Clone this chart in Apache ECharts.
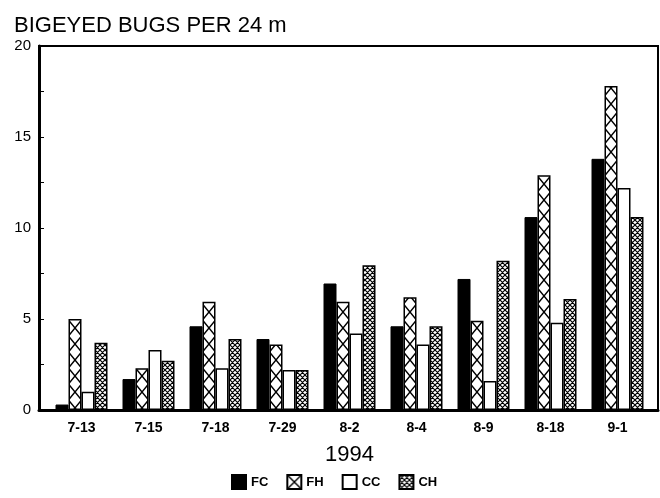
<!DOCTYPE html>
<html>
<head>
<meta charset="utf-8">
<script src="https://cdn.jsdelivr.net/npm/echarts@6/dist/echarts.min.js"></script>
<style>
  html, body { margin: 0; padding: 0; background: #fff; }
  #chart { width: 660px; height: 498px; }
</style>
</head>
<body>
<div id="chart"></div>
<script>
const dates = ["7-13", "7-15", "7-18", "7-29", "8-2", "8-4", "8-9", "8-18", "9-1"];
const seriesNames = ["FC", "FH", "CC", "CH"];
const fcData = [0.3, 1.7, 4.6, 3.9, 6.95, 4.6, 7.2, 10.6, 13.8];
const fhData = [5.0, 2.3, 5.95, 3.6, 5.95, 6.2, 4.9, 12.9, 17.8];
const ccData = [1.0, 3.3, 2.3, 2.2, 4.2, 3.6, 1.6, 4.8, 12.2];
const chData = [3.7, 2.7, 3.9, 2.2, 7.95, 4.6, 8.2, 6.1, 10.6];
const yTicks = [0, 5, 10, 15, 20];

// pattern tiles
function makeTile(w, h, draw) {
  const c = document.createElement("canvas");
  c.width = w;
  c.height = h;
  const ctx = c.getContext("2d");
  ctx.fillStyle = "#fff";
  ctx.fillRect(0, 0, w, h);
  ctx.strokeStyle = "#000";
  ctx.lineWidth = 1.4;
  draw(ctx, w, h);
  return c;
}

// big X, one per bar width; tile is one category wide so it lines up with the FH bars
const fhTile = makeTile(67, 16, (ctx, w, h) => {
  const x0 = 1.5, x1 = 14.5;
  ctx.beginPath();
  for (let k = -1; k <= 1; k++) {
    ctx.moveTo(x0, k * h);
    ctx.lineTo(x1, (k + 1) * h);
    ctx.moveTo(x1, k * h);
    ctx.lineTo(x0, (k + 1) * h);
  }
  ctx.stroke();
});

const fhLegendTile = makeTile(14, 14, (ctx, w, h) => {
  ctx.beginPath();
  ctx.moveTo(0, 0); ctx.lineTo(w, h);
  ctx.moveTo(w, 0); ctx.lineTo(0, h);
  ctx.stroke();
});

// fine cross hatch
const chTile = makeTile(5, 5, (ctx, w, h) => {
  ctx.lineWidth = 1.2;
  ctx.beginPath();
  for (let k = -1; k <= 1; k++) {
    ctx.moveTo(k * w, 0); ctx.lineTo((k + 1) * w, h);
    ctx.moveTo((k + 1) * w, 0); ctx.lineTo(k * w, h);
  }
  ctx.stroke();
});

const fhPattern = { image: fhTile, repeat: "repeat" };
const chPattern = { image: chTile, repeat: "repeat" };

const myChart = echarts.init(document.getElementById("chart"));

const barBase = {
  type: "bar",
  xAxisIndex: 1,
  yAxisIndex: 1,
  barWidth: 13,
  barGap: "0%",
  animation: false,
};

const font = "'Liberation Sans', Arial, Helvetica, sans-serif";

const option = {
  backgroundColor: "#fff",
  animation: false,
  textStyle: { fontFamily: font, color: "#000" },
  title: {
    text: "BIGEYED BUGS PER 24 m",
    left: 9,
    top: 10,
    textStyle: { fontFamily: font, fontSize: 22, fontWeight: "normal", color: "#000" },
  },
  legend: {
    left: 226,
    top: 469,
    itemWidth: 14,
    itemHeight: 14,
    itemGap: 18,
    icon: "rect",
    textStyle: { fontFamily: font, fontSize: 13, fontWeight: "bold", color: "#000" },
    data: [
      { name: "FC" },
      { name: "FH", itemStyle: { color: { image: fhLegendTile, repeat: "repeat" } } },
      { name: "CC" },
      { name: "CH" },
    ],
  },
  grid: [
    // frame
    { left: 39, right: 2, top: 46, bottom: 88, show: true, borderColor: "#000", borderWidth: 2 },
    // bars
    { left: 48, right: 9, top: 46, bottom: 88 },
  ],
  xAxis: [
    {
      gridIndex: 0,
      type: "category",
      data: dates,
      axisLine: { show: true, lineStyle: { color: "#000", width: 3 } },
      axisTick: { show: false },
      axisLabel: { show: false },
    },
    {
      gridIndex: 1,
      type: "category",
      data: dates,
      axisLine: { show: false },
      axisTick: { show: false },
      axisLabel: { fontFamily: font, fontSize: 14, fontWeight: "bold", color: "#000", margin: 11 },
      name: "1994",
      nameLocation: "middle",
      nameGap: 34,
      nameTextStyle: { fontFamily: font, fontSize: 22, color: "#000" },
    },
  ],
  yAxis: [
    {
      gridIndex: 0,
      type: "value",
      min: 0,
      max: 20,
      interval: 2.5,
      axisLine: { show: true, lineStyle: { color: "#000", width: 3 } },
      axisTick: { show: true, inside: true, length: 5, lineStyle: { color: "#000", width: 1 } },
      splitLine: { show: false },
      axisLabel: {
        fontFamily: font,
        fontSize: 15,
        color: "#000",
        margin: 8,
        formatter: (v) => (yTicks.includes(v) ? String(v) : ""),
      },
    },
    {
      gridIndex: 1,
      type: "value",
      min: 0,
      max: 20,
      show: false,
      splitLine: { show: false },
    },
  ],
  series: [
    { ...barBase, name: "FC", data: fcData, itemStyle: { color: "#000", borderColor: "#000", borderWidth: 1 } },
    { ...barBase, name: "FH", data: fhData, itemStyle: { color: fhPattern, borderColor: "#000", borderWidth: 1.5 } },
    { ...barBase, name: "CC", data: ccData, itemStyle: { color: "#fff", borderColor: "#000", borderWidth: 1.5 } },
    { ...barBase, name: "CH", data: chData, itemStyle: { color: chPattern, borderColor: "#000", borderWidth: 1.5 } },
  ],
};

myChart.setOption(option);
</script>
</body>
</html>
